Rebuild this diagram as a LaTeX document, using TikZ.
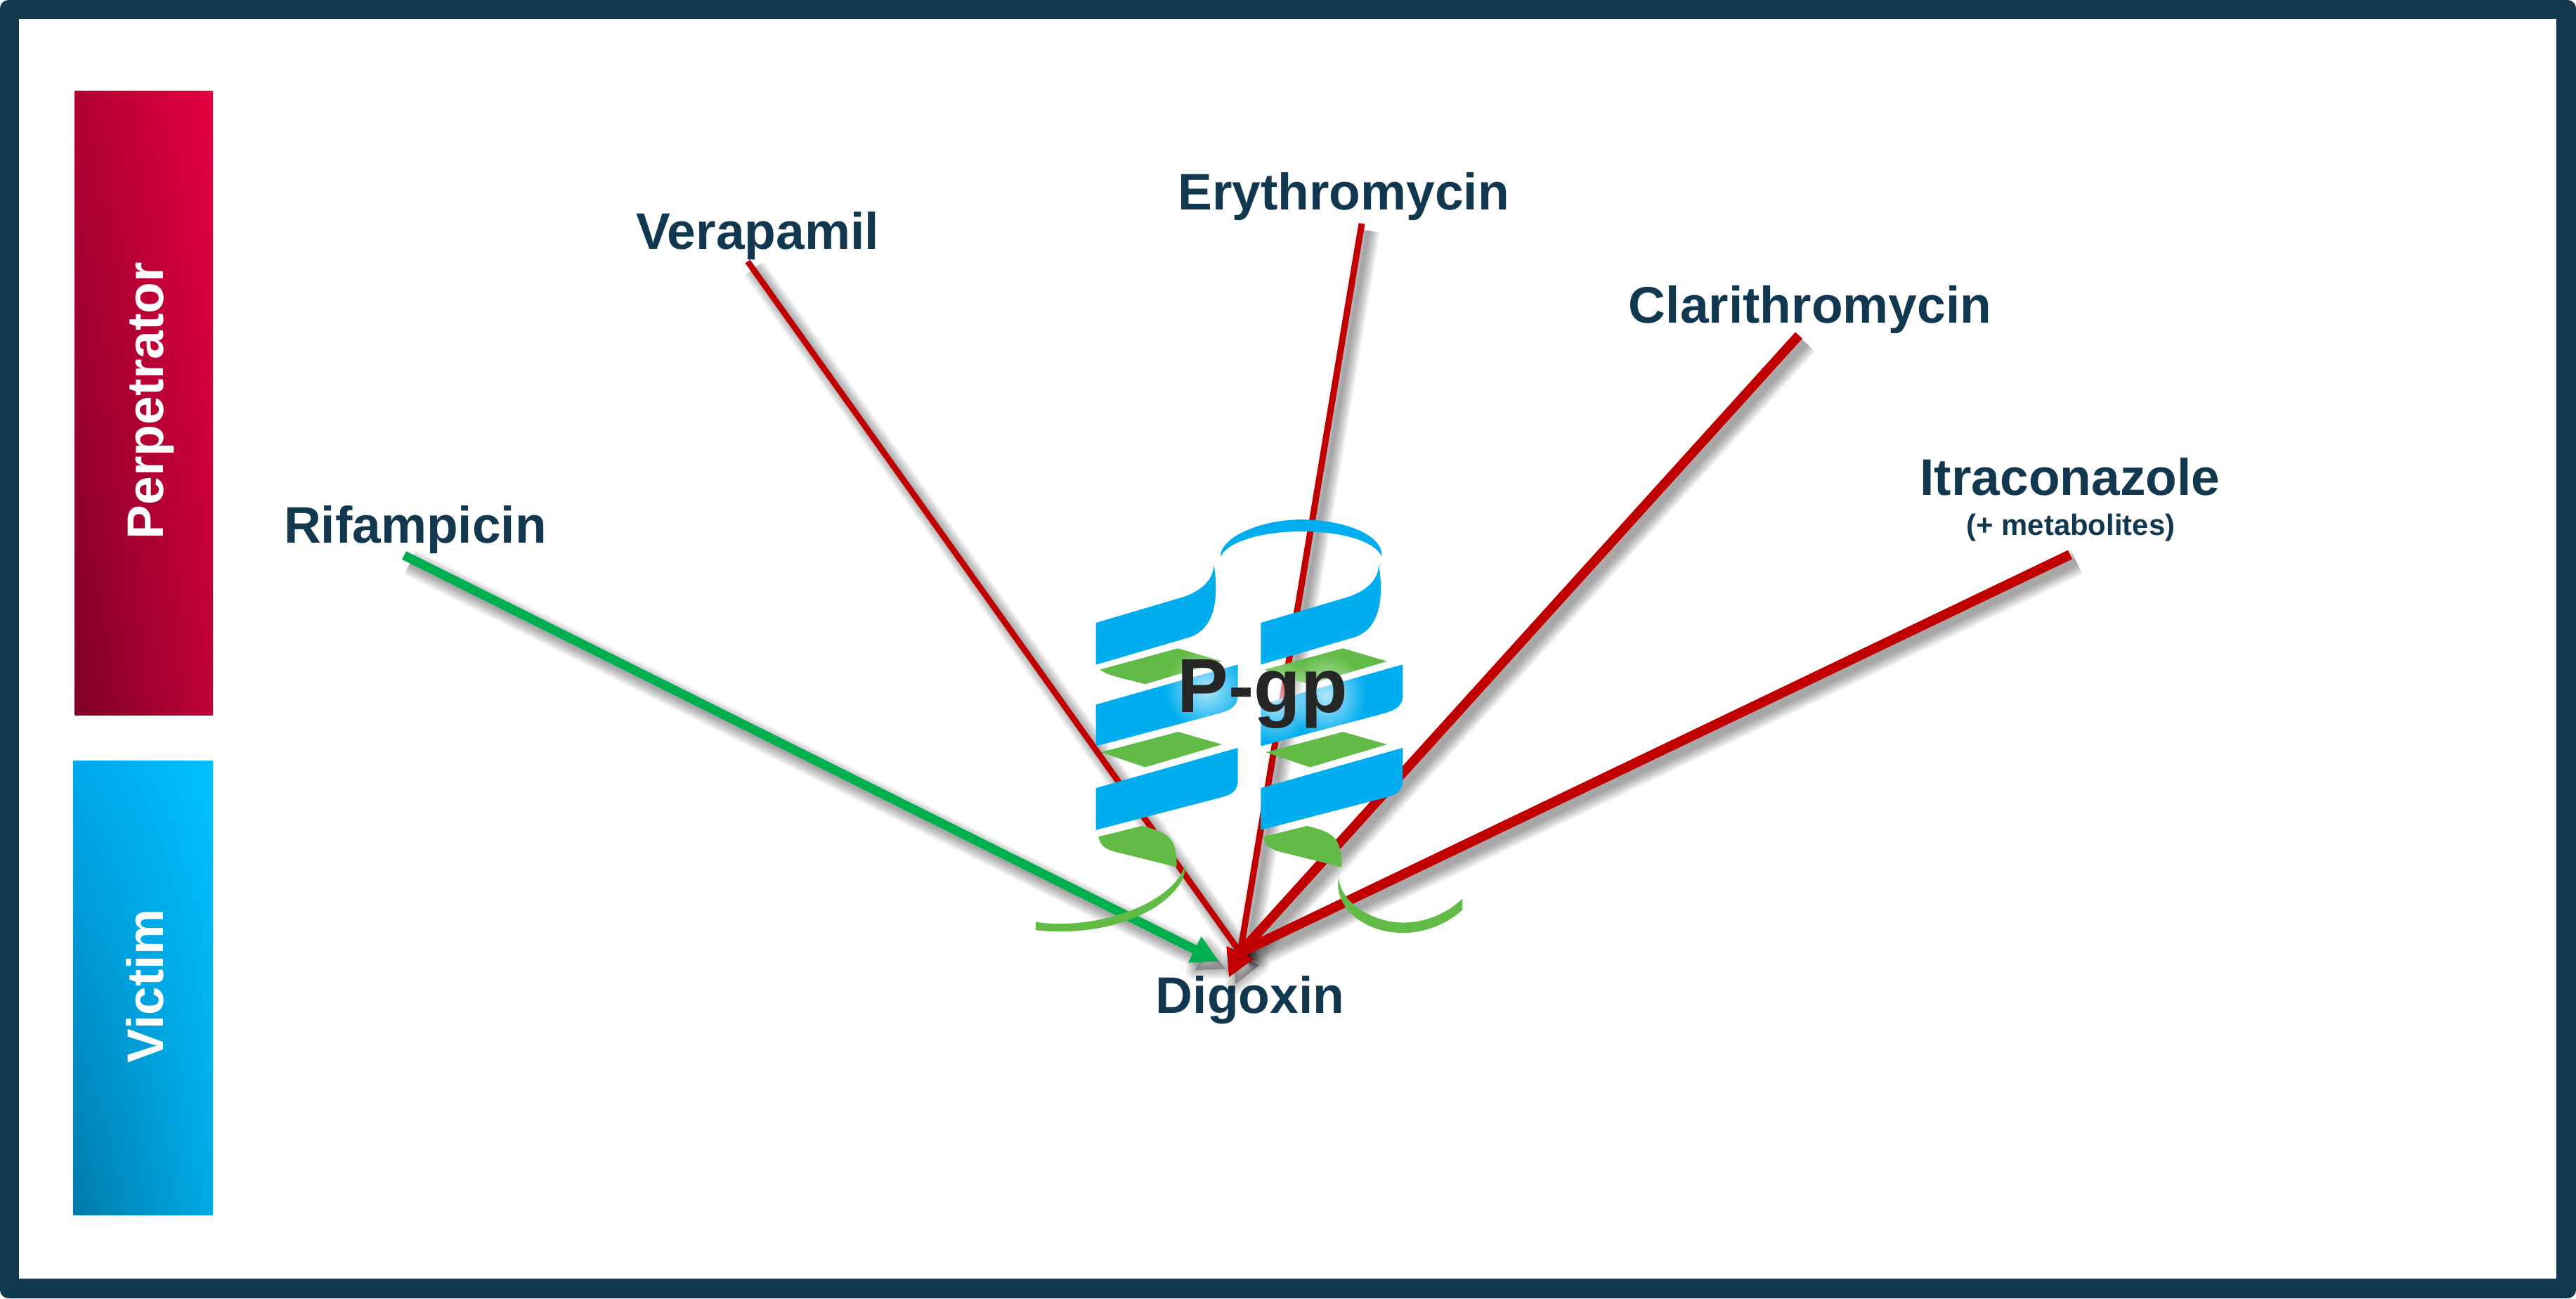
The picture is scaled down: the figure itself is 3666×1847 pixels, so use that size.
\documentclass[tikz,border=0pt]{standalone}
\usepackage{fontspec}
\setmainfont{Liberation Sans}
\usetikzlibrary{shadings,fadings,arrows.meta}
\definecolor{navy}{HTML}{123850}
\definecolor{redline}{HTML}{C00000}
\definecolor{greenline}{HTML}{00B050}
\definecolor{ribbon}{HTML}{00AEEF}
\definecolor{leaf}{HTML}{62BB46}
\definecolor{pgptext}{HTML}{262626}
\definecolor{pur}{HTML}{E4003F}
\definecolor{pul}{HTML}{B00034}
\definecolor{pll}{HTML}{7D0026}
\definecolor{plr}{HTML}{BE0038}
\definecolor{vur}{HTML}{00C0FF}
\definecolor{vul}{HTML}{00A8EC}
\definecolor{vll}{HTML}{007AAA}
\definecolor{vlr}{HTML}{00AAE6}
\tikzfading[name=glowfade, inner color=transparent!30, outer color=transparent!100]
\tikzset{
  druglabel/.style={text=navy,font=\fontsize{20.8}{24}\selectfont\bfseries,anchor=base,inner sep=0pt},
  sidelabel/.style={text=white,font=\fontsize{20.8}{24}\selectfont\bfseries,anchor=base,inner sep=0pt,rotate=90},
  sidebar/.style={anchor=north west,inner sep=0pt,minimum width=#1*0.01cm},
  ribbonpart/.style={fill=ribbon},
  leafpart/.style={fill=leaf},
}
% soft drop shadow of a path given in #1, with line width #2 (px)
\newcommand{\softline}[2]{%
  \foreach \w in {32,29,26,23,20,17,14,11,8,5,2}{%
    \draw[black,opacity=.036,line width=#2*0.01cm+\w*0.01cm-6*0.01cm,line join=round,
      transform canvas={shift={(0.09cm,-0.10cm)}}] #1;}%
}
\newcommand{\softhead}[1]{%
  \foreach \w in {28,22,16,10,4}{%
    \draw[black,fill=black,opacity=.06,line width=\w*0.01cm,line join=round,
      transform canvas={shift={(0.09cm,-0.10cm)}}] #1;}%
}
\begin{document}
\begin{tikzpicture}[x=0.01cm,y=-0.01cm]
\useasboundingbox (0,0) rectangle (3666,1847);
\fill[white] (0,0) rectangle (3666,1847);
% frame
\fill[navy,rounded corners=0.12cm] (0,0) rectangle (3666,1847);
\fill[white] (27,27) rectangle (3638,1819);
% side bars
\node[sidebar=196,minimum height=8.87cm,
  upper right=pur,upper left=pul,lower left=pll,lower right=plr] (perp) at (106,129) {};
\node[sidebar=198,minimum height=6.45cm,
  upper right=vur,upper left=vul,lower left=vll,lower right=vlr] (vict) at (104,1082) {};
\node[sidelabel] (perplabel) at (232.5,570) {Perpetrator};
\node[sidelabel] (victlabel) at (232.5,1403) {Victim};
% labels
\node[druglabel] (rif) at (591,772) {Rifampicin};
\node[druglabel] (ver) at (1078,354) {Verapamil};
\node[druglabel] (ery) at (1912,298) {Erythromycin};
\node[druglabel] (cla) at (2576,459) {Clarithromycin};
\node[druglabel] (itr) at (2946,704) {Itraconazole};
\node[text=navy,font=\fontsize{11.9}{14}\selectfont\bfseries,anchor=base,inner sep=0pt] (met) at (2947,761) {(+ metabolites)};
\node[druglabel] (dig) at (1779,1441) {Digoxin};
% connector ends
\coordinate (rifs) at (575,790);
\coordinate (rift) at (1735,1368);
\coordinate (vers) at (1064,372);
\coordinate (erys) at (1938,318);
\coordinate (clas) at (2560,477);
\coordinate (itrs) at (2946,789);
\coordinate (conv) at (1765,1355);
\coordinate (tip) at (1749,1390);
\coordinate (hl) at (1747,1347);
\coordinate (hr) at (1783,1363);
\coordinate (gl) at (1707,1335);
\coordinate (gr) at (1692,1370);
% shadows and lines
\softline{(rifs) -- (1700,1351)}{13}
\softhead{(gl) -- (rift) -- (gr) -- cycle}
\draw[greenline,line width=0.13cm,-{Triangle[length=11pt,width=11pt]}] (rifs) -- (rift);
\softline{(vers) -- (conv)}{8.5}
\softhead{(hl) -- (hr) -- (tip) -- cycle}
\draw[redline,line width=0.085cm,line join=round,-{Triangle[length=10.9pt,width=11.2pt]}] (vers) -- (conv) -- (tip);
\softline{(erys) -- (conv)}{9}
\draw[redline,line width=0.09cm,line join=round,-{Triangle[length=10.9pt,width=11.2pt]}] (erys) -- (conv) -- (tip);
\softline{(clas) -- (conv)}{13.5}
\draw[redline,line width=0.135cm,line join=round,-{Triangle[length=10.9pt,width=11.2pt]}] (clas) -- (conv) -- (tip);
\softline{(itrs) -- (conv)}{14}
\draw[redline,line width=0.14cm,line join=round,-{Triangle[length=10.9pt,width=11.2pt]}] (itrs) -- (conv) -- (tip);
% P-gp helix, coordinates measured on a local grid
\begin{scope}[shift={(1400,680)},xscale=0.5102,yscale=0.4847]
  \foreach \dx in {0,460}{
    \begin{scope}[xshift=\dx*0.01cm]
      \fill[ribbonpart] (313,425) -- (560,348) .. controls (620,325) and (640,290) .. (642,255) .. controls (655,340) and (650,440) .. (575,467) -- (313,548) -- cycle;
      \fill[ribbonpart] (313,665) -- (700,550) -- (709,548) -- (709,635) .. controls (709,670) and (690,680) .. (660,690) -- (313,787) -- cycle;
      \fill[ribbonpart] (313,910) -- (709,792) -- (709,885) .. controls (709,920) and (690,930) .. (660,938) -- (313,1033) -- cycle;
      \fill[leafpart] (325,562) -- (542,500) -- (665,538) -- (450,605) .. controls (400,590) and (340,580) .. (325,562) -- cycle;
      \fill[leafpart] (327,805) -- (542,745) -- (665,782) -- (450,849) -- cycle;
      \fill[leafpart] (320,1053) -- (442,1021) .. controls (510,1040) and (540,1050) .. (538,1142) -- (370,1098) .. controls (340,1090) and (325,1080) .. (320,1053) -- cycle;
    \end{scope}
  }
  \fill[ribbonpart] (660,232) .. controls (660,170) and (780,122) .. (885,122) .. controls (1000,122) and (1115,165) .. (1110,230) .. controls (1090,185) and (1000,157) .. (885,157) .. controls (780,157) and (680,185) .. (660,232) -- cycle;
  \fill[leafpart] (145,1303) .. controls (310,1330) and (530,1250) .. (562,1135) .. controls (570,1225) and (400,1355) .. (145,1327) -- cycle;
  \fill[leafpart] (990,1172) .. controls (995,1250) and (1090,1305) .. (1170,1305) .. controls (1230,1305) and (1290,1280) .. (1335,1235) -- (1335,1268) .. controls (1290,1310) and (1230,1335) .. (1170,1335) .. controls (1060,1335) and (975,1260) .. (990,1172) -- cycle;
  % glow behind the letters
  \fill[white,path fading=glowfade] (620,620) ellipse (115 and 120);
  \fill[white,path fading=glowfade] (815,650) ellipse (100 and 130);
  \fill[white,path fading=glowfade] (955,640) ellipse (110 and 125);
\end{scope}
\node[text=pgptext,font=\fontsize{31}{34}\selectfont\bfseries,anchor=base,inner sep=0pt] (pgp) at (1797,1013) {P-gp};
\end{tikzpicture}
\end{document}
